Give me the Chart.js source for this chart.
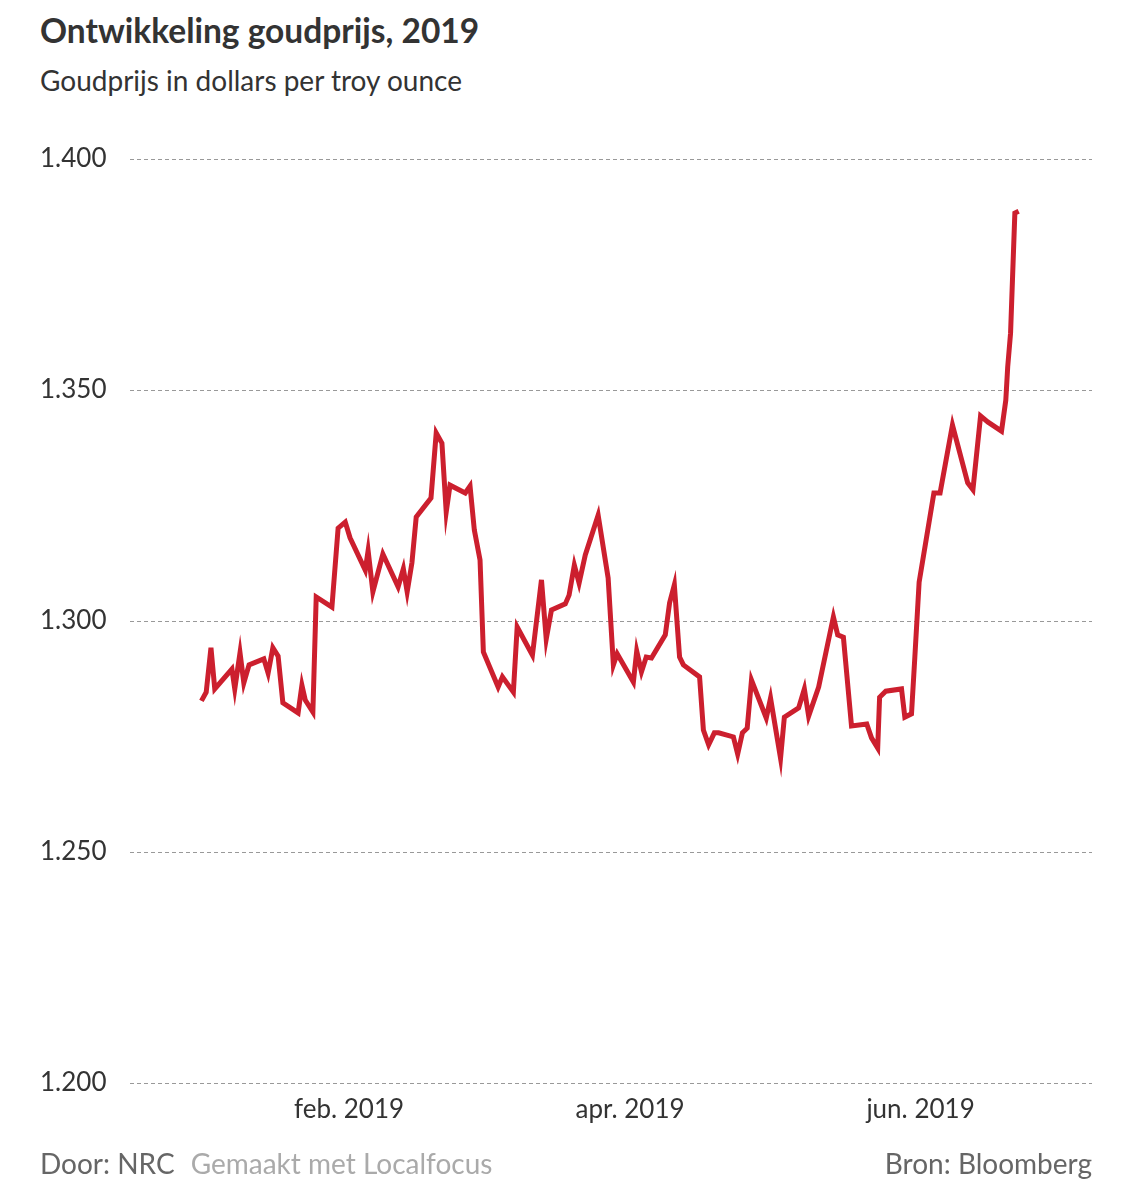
<!DOCTYPE html>
<html>
<head>
<meta charset="utf-8">
<script src="https://cdn.jsdelivr.net/npm/chart.js@4"></script>
<style>
  html, body { margin: 0; padding: 0; background: #fff; }
  body { width: 1124px; height: 1196px; position: relative; font-family: Lato, "Open Sans", sans-serif; color: #333; }
  #title { position: absolute; left: 40px; top: 10px; font-size: 33.5px; font-weight: bold; }
  #subtitle { position: absolute; left: 40px; top: 63px; font-size: 28px; }
  #wrap { position: absolute; left: 0; top: 0; width: 1124px; height: 1196px; }
  .foot { position: absolute; top: 1146px; font-size: 28px; color: #666; }
  #door { left: 40px; }
  #door span { color: #aaa; margin-left: 16px; }
  #bron { right: 32px; }
</style>
</head>
<body>
<div id="title">Ontwikkeling goudprijs, 2019</div>
<div id="subtitle">Goudprijs in dollars per troy ounce</div>
<div id="wrap"><canvas id="gold-chart"></canvas></div>
<div class="foot" id="door">Door: NRC<span>Gemaakt met Localfocus</span></div>
<div class="foot" id="bron">Bron: Bloomberg</div>

<script>
// dagen sinds 1 januari 2019
const days = [0, 1, 2, 2.8, 6.4, 7, 8.1, 8.9, 10, 13.1, 14, 15, 16.1, 17.1, 20.3, 21.1, 21.8, 23.4, 24.1, 27.4,
    28.7, 30.2, 31.2, 34.4, 35, 36, 38.1, 41.3, 42.4, 43.2, 44.2, 45.1, 48.2, 49.3, 50.5, 51.4, 52.2, 55.4, 56.4, 57.3,
    58.5, 59.2, 62.3, 63.2, 65.5, 66.3, 69.5, 71.4, 72.4, 73.5, 76.4, 77.2, 78.3, 79.3, 80.6, 83.3, 85.4, 86.5, 87.3, 90.7,
    91.4, 92.4, 93.4, 94.5, 97.4, 98.3, 99.3, 100.4, 101.2, 104.6, 105.4, 106.5, 107.7, 108.6, 111.7, 112.6, 113.6, 114.6, 115.5, 118.6,
    119.5, 121.6, 122.4, 125.4, 126.6, 127.5, 129.6, 132.7, 133.6, 134.8, 136.5, 139.7, 140.7, 142, 142.4, 143.7, 147, 147.7, 149.1, 149.8,
    150.7, 153.8, 155.1, 157.7, 160.9, 162, 163.6, 165.1, 168, 168.9, 169.3, 169.9, 170.8, 171.6];

const prices = [1282.7, 1284.6, 1294.2, 1285.3, 1289.6, 1285.3, 1293.1, 1286.6, 1290.5, 1291.8, 1288.7, 1294.2, 1292.4, 1282.3, 1280.1, 1286.1, 1282.9, 1280.3, 1305.2, 1303.0,
    1320.1, 1321.4, 1318.0, 1311.0, 1315.2, 1306.3, 1314.5, 1307.4, 1311.3, 1306.3, 1312.6, 1322.5, 1326.6, 1340.7, 1338.5, 1323.6, 1329.4, 1327.7, 1329.2, 1319.7,
    1313.2, 1293.3, 1285.7, 1287.9, 1284.6, 1298.7, 1292.6, 1308.9, 1296.1, 1302.4, 1303.7, 1305.6, 1312.1, 1308.2, 1314.3, 1322.9, 1309.3, 1290.5, 1292.9, 1286.8,
    1293.5, 1289.0, 1292.2, 1292.0, 1297.0, 1303.9, 1307.8, 1292.2, 1290.5, 1287.9, 1276.4, 1273.2, 1275.8, 1275.8, 1274.9, 1271.2, 1275.8, 1276.8, 1287.2, 1279.0,
    1283.3, 1270.3, 1279.2, 1281.2, 1285.3, 1279.4, 1285.7, 1300.9, 1297.0, 1296.5, 1277.3, 1277.7, 1274.7, 1272.5, 1283.5, 1284.8, 1285.3, 1279.2, 1279.9, 1292.2,
    1308.4, 1327.7, 1327.7, 1342.4, 1329.9, 1328.4, 1344.4, 1343.1, 1341.1, 1347.8, 1355.0, 1362.3, 1388.3, 1388.7];

const monthTicks = [31, 90, 151];
const monthLabels = ['feb. 2019', 'apr. 2019', 'jun. 2019'];

const yTicks = [1200, 1250, 1300, 1350, 1400];

function fmt(v) {
    return String(v).replace(/\B(?=(\d{3})+(?!\d))/g, '.');
}

function init() {
    const ctx = document.getElementById('gold-chart').getContext('2d');
    new Chart(ctx, {
        type: 'line',
        data: {
            datasets: [{
                data: days.map((d, i) => ({ x: d, y: prices[i] })),
                borderColor: '#cc1f2e',
                borderWidth: 5,
                pointRadius: 0,
                tension: 0,
                borderJoinStyle: 'miter'
            }]
        },
        options: {
            responsive: false,
            animation: false,
            layout: { padding: { left: 40, right: 32, top: 159, bottom: 63 } },
            plugins: { legend: { display: false }, tooltip: { enabled: false } },
            scales: {
                x: {
                    type: 'linear',
                    min: -15,
                    max: 187,
                    grid: { display: false },
                    border: { display: false },
                    afterBuildTicks: s => { s.ticks = monthTicks.map(v => ({ value: v })); },
                    afterFit: s => { s.height = 50; },
                    ticks: {
                        autoSkip: false,
                        maxRotation: 0,
                        padding: 3,
                        color: '#333',
                        font: { family: 'Lato', size: 26 },
                        callback: v => monthLabels[monthTicks.indexOf(v)]
                    }
                },
                y: {
                    min: 1200,
                    max: 1400,
                    afterBuildTicks: s => { s.ticks = yTicks.map(v => ({ value: v })); },
                    afterFit: s => { s.width = 90; },
                    grid: { color: '#999', lineWidth: 1, drawTicks: false },
                    border: { display: false, dash: [4, 3] },
                    ticks: {
                        crossAlign: 'far',
                        padding: 0,
                        color: '#333',
                        font: { family: 'Lato', size: 26 },
                        callback: v => fmt(v)
                    }
                }
            }
        }
    });
}

const cv = document.getElementById('gold-chart');
cv.width = 1124;
cv.height = 1196;
init();
</script>
</body>
</html>
